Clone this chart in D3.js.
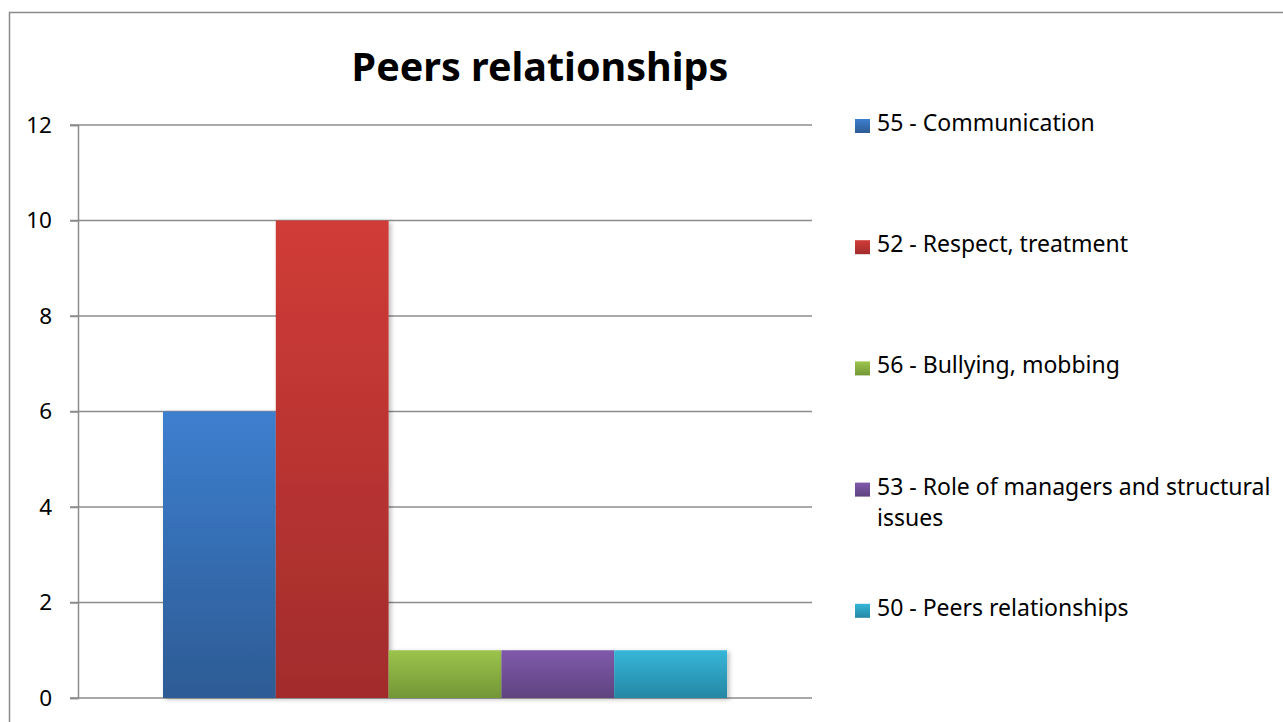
<!DOCTYPE html>
<html>
<head>
<meta charset="utf-8">
<script src="https://cdn.jsdelivr.net/npm/d3@7"></script>
<style>
  html, body { margin: 0; padding: 0; background: #fff; }
  svg { display: block; }
</style>
</head>
<body>
<svg id="chart" width="1283" height="722"></svg>
<script>
// Series shown as side-by-side bars in a single category group
const seriesNames = [
  "55 - Communication",
  "52 - Respect, treatment",
  "56 - Bullying, mobbing",
  "53 - Role of managers and structural issues",
  "50 - Peers relationships"
];
const seriesValues = [6, 10, 1, 1, 1];
const yTicks = [0, 2, 4, 6, 8, 10, 12];
const chartTitle = "Peers relationships";

// Gradient stops per series: [top, bottom]
const seriesColors = [
  ["#3d7fcf", "#2d5b94"],
  ["#d03c37", "#a22c2c"],
  ["#9cc44c", "#739636"],
  ["#7f5aab", "#5f437f"],
  ["#36b6d8", "#2587a4"]
];

const svg = d3.select("#chart");
const font = "'Noto Sans', 'Open Sans', sans-serif";

const plot = { left: 78, right: 812, top: 125, bottom: 698 };

const defs = svg.append("defs");
seriesColors.forEach((c, i) => {
  const g = defs.append("linearGradient")
    .attr("id", "grad" + i)
    .attr("x1", 0).attr("y1", 0).attr("x2", 0).attr("y2", 1);
  g.append("stop").attr("offset", "0%").attr("stop-color", c[0]);
  g.append("stop").attr("offset", "100%").attr("stop-color", c[1]);
});
const sh = defs.append("filter").attr("id", "shadow")
  .attr("x", "-10%").attr("y", "-10%").attr("width", "130%").attr("height", "130%");
sh.append("feDropShadow").attr("dx", 2.5).attr("dy", 1.5)
  .attr("stdDeviation", 2).attr("flood-color", "#000").attr("flood-opacity", 0.25);

// Outer frame
svg.append("rect")
  .attr("x", 9.5).attr("y", 12.5).attr("width", 1400).attr("height", 800)
  .attr("fill", "none").attr("stroke", "#8a8a8a").attr("stroke-width", 1.5);

// Title
svg.append("text")
  .attr("x", 540).attr("y", 81)
  .attr("text-anchor", "middle")
  .attr("font-family", font).attr("font-weight", "bold").attr("font-size", 39.5)
  .attr("fill", "#000")
  .text(chartTitle);

// Scales
const y = d3.scaleLinear().domain([0, 12]).range([plot.bottom, plot.top]);
const x0 = d3.scaleBand().domain(["group"]).range([plot.left, plot.right])
  .paddingInner(0).paddingOuter(0.1507);
const x1 = d3.scaleBand().domain(seriesNames).range([0, x0.bandwidth()]).padding(0);

// Gridlines
svg.append("g")
  .selectAll("line")
  .data(yTicks)
  .join("line")
  .attr("x1", plot.left - 8).attr("x2", plot.right)
  .attr("y1", d => y(d)).attr("y2", d => y(d))
  .attr("stroke", "#8c8c8c").attr("stroke-width", 1.5);

// Y axis
const yAxis = svg.append("g")
  .attr("transform", `translate(${plot.left},0)`)
  .call(d3.axisLeft(y).tickValues(yTicks).tickSize(8).tickPadding(18));
yAxis.select(".domain").attr("stroke", "#8c8c8c").attr("stroke-width", 1.5);
yAxis.selectAll(".tick line").attr("stroke", "#8c8c8c").attr("stroke-width", 1.5);
yAxis.selectAll(".tick text")
  .attr("font-family", font).attr("font-size", 22.5).attr("fill", "#000");

// Bars
svg.append("g")
  .selectAll("rect")
  .data(seriesNames.map((n, i) => ({ name: n, value: seriesValues[i], i })))
  .join("rect")
  .attr("x", d => x0("group") + x1(d.name))
  .attr("width", x1.bandwidth())
  .attr("y", d => y(d.value))
  .attr("height", d => y(0) - y(d.value))
  .attr("fill", d => `url(#grad${d.i})`)
  .attr("filter", "url(#shadow)");

// Legend
const legend = svg.append("g").attr("transform", "translate(855,0)");
const legendY0 = 131, legendStep = 121.2, lineH = 31, maxW = 405;
seriesNames.forEach((name, i) => {
  const baseY = legendY0 + i * legendStep;
  legend.append("rect")
    .attr("x", 0).attr("y", baseY - 12).attr("width", 15).attr("height", 14)
    .attr("fill", `url(#grad${i})`);
  const t = legend.append("text")
    .attr("x", 22).attr("y", baseY)
    .attr("font-family", font).attr("font-size", 23).attr("fill", "#000");
  const words = name.split(" ");
  let line = [];
  let tspan = t.append("tspan").attr("x", 22).attr("y", baseY);
  let lineNo = 0;
  words.forEach(w => {
    line.push(w);
    tspan.text(line.join(" "));
    if (tspan.node().getComputedTextLength() > maxW && line.length > 1) {
      line.pop();
      tspan.text(line.join(" "));
      line = [w];
      lineNo++;
      tspan = t.append("tspan").attr("x", 22).attr("y", baseY + lineNo * lineH).text(w);
    }
  });
});
</script>
</body>
</html>
